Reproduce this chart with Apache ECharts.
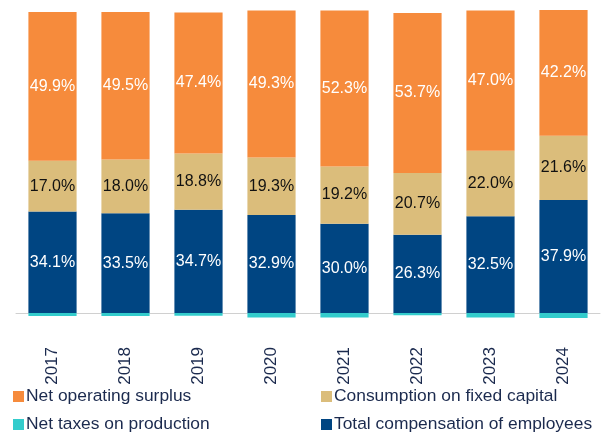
<!DOCTYPE html>
<html>
<head>
<meta charset="utf-8">
<script src="https://cdn.jsdelivr.net/npm/echarts@6/dist/echarts.min.js"></script>
<style>
  html, body { margin: 0; padding: 0; background: #fff; }
  #chart { width: 605px; height: 435px; }
</style>
</head>
<body>
<div id="chart"></div>
<script>
var years = ['2017', '2018', '2019', '2020', '2021', '2022', '2023', '2024']
var compensation = [34.1, 33.5, 34.7, 32.9, 30.0, 26.3, 32.5, 37.9]
var fixedCapital = [17.0, 18.0, 18.8, 19.3, 19.2, 20.7, 22.0, 21.6]
var operatingSurplus = [49.9, 49.5, 47.4, 49.3, 52.3, 53.7, 47.0, 42.2]
var netTaxes = [-1.0, -1.0, -0.9, -1.5, -1.5, -0.7, -1.5, -1.7]

var font = 'Liberation Sans, Arial, sans-serif'
var textColor = '#1b2a4e'

function pct(p) { return p.value.toFixed(1) + '%' }

function barSeries(name, data, color, labelColor) {
  return {
    name: name,
    type: 'bar',
    stack: 'total',
    barWidth: '66%',
    data: data,
    itemStyle: { color: color },
    label: {
      show: labelColor != null,
      position: 'inside',
      color: labelColor,
      fontFamily: font,
      fontSize: 16,
      formatter: pct
    }
  }
}

// one legend per entry so they sit in a 2x2 grid
function legendItem(name, left, top) {
  return {
    left: left,
    top: top,
    padding: 0,
    itemWidth: 11,
    itemHeight: 11,
    icon: 'rect',
    textStyle: { fontFamily: font, fontSize: 17.4, color: textColor, padding: [0, 0, 0, -3] },
    data: [name]
  }
}

var chart = echarts.init(document.getElementById('chart'))
chart.setOption({
  animation: false,
  grid: { left: 16, right: 5, top: 10, bottom: 116 },
  legend: [
    legendItem('Net operating surplus', 13, 388),
    legendItem('Consumption on fixed capital', 321, 388),
    legendItem('Net taxes on production', 13, 416),
    legendItem('Total compensation of employees', 321, 416)
  ],
  xAxis: {
    type: 'category',
    data: years,
    axisLine: { lineStyle: { color: '#d0d0d0' } },
    axisTick: { length: 6, lineStyle: { color: '#d0d0d0' } },
    axisLabel: {
      rotate: 90,
      margin: 28,
      fontFamily: font,
      fontSize: 17,
      color: textColor
    }
  },
  yAxis: {
    type: 'value',
    min: -2,
    max: function (v) { return v.max },
    show: false,
    splitLine: { show: false }
  },
  series: [
    barSeries('Total compensation of employees', compensation, '#004582', '#ffffff'),
    barSeries('Consumption on fixed capital', fixedCapital, '#dbbd7b', '#111111'),
    barSeries('Net operating surplus', operatingSurplus, '#f68b3c', '#ffffff'),
    barSeries('Net taxes on production', netTaxes, '#33cccc', null)
  ]
})
</script>
</body>
</html>
